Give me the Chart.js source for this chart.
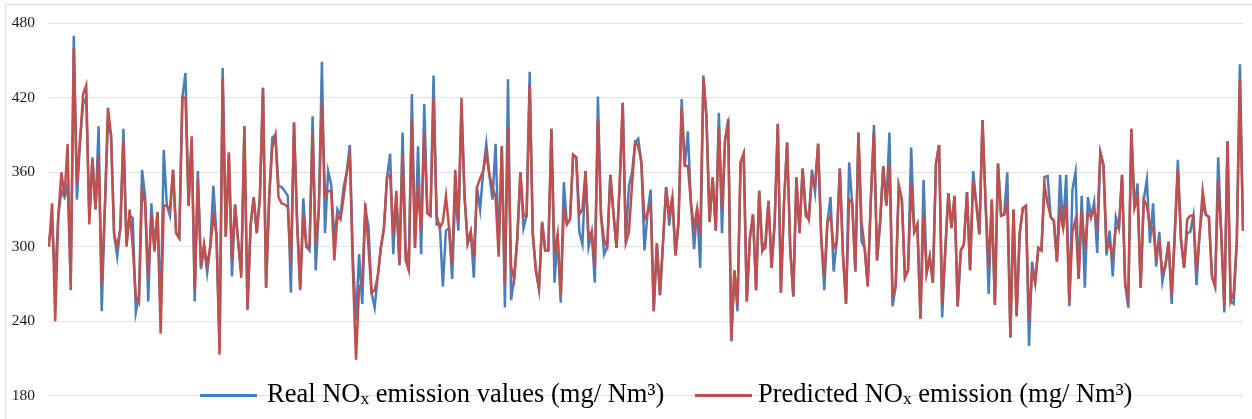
<!DOCTYPE html>
<html>
<head>
<meta charset="utf-8">
<script src="https://cdn.jsdelivr.net/npm/chart.js@4.4.1/dist/chart.umd.min.js"></script>
<style>
  html, body { margin: 0; padding: 0; background: #fff; }
  #wrap { position: relative; width: 1252px; height: 419px; overflow: hidden; }
  #frame { position: absolute; left: 5px; top: 4px; width: 1250px; height: 420px; border: 1px solid #dcdcdc; box-sizing: border-box; }
  #graph { position: absolute; left: 0; top: 0; }
  .swatch { position: absolute; width: 57px; height: 3px; }
  .label { position: absolute; font-family: "Liberation Serif", "Times New Roman", serif; font-size: 26.5px; line-height: 26px; color: #000; white-space: nowrap; }
  .label sub { font-size: 0.66em; vertical-align: -0.12em; line-height: 0; }
</style>
</head>
<body>
<div id="wrap">
  <div id="frame"></div>
  <canvas id="graph" width="1252" height="419"></canvas>
  <div class="swatch" style="left:200px; top:394px; background:#4a7ebb;"></div>
  <div class="label" style="left:267px; top:380px;">Real NO<sub>x</sub> emission values (mg/ Nm³)</div>
  <div class="swatch" style="left:695px; top:394px; background:#c0504d;"></div>
  <div class="label" style="left:758px; top:380px;">Predicted NO<sub>x</sub> emission (mg/ Nm³)</div>
</div>
<script>
  // values, left to right
  const realValues = [
    305,318,275,325,345,340,350,270,470,338,385,415,420,325,372,330,397,248,330,400,390,310,292,315,395,302,325,323,247,260,362,340,256,335,300,328,
    245,378,333,325,362,311,307,420,440,333,385,256,361,282,300,279,300,349,310,220,444,308,375,276,334,304,280,397,250,317,340,311,340,428,267,340,388,390,349,348,345,341,263,400,320,265,339,300,
    297,405,281,330,449,311,361,350,305,330,325,348,360,382,290,241,294,254,330,317,263,251,276,299,315,356,375,294,340,285,392,300,281,423,300,381,294,415,327,325,438,318,318,268,313,315,274,345,
    313,410,340,303,312,275,348,330,361,383,358,338,383,300,381,251,435,257,275,307,360,315,325,441,310,281,266,320,297,297,395,271,310,255,352,318,322,374,372,312,302,361,300,312,271,421,325,294,300,
    358,327,299,349,416,303,349,360,384,387,368,297,327,346,248,303,261,304,348,317,340,293,320,419,365,393,335,298,331,283,438,404,320,356,313,408,311,386,403,224,281,248,368,375,256,307,326,265,345,
    297,305,337,283,320,399,263,335,384,299,260,356,311,363,330,322,362,344,383,307,265,320,340,280,304,363,294,254,368,335,280,392,304,299,268,338,398,289,320,365,333,392,252,268,349,338,275,281,380,
    312,318,242,354,279,292,271,367,382,243,297,343,315,341,252,297,302,344,281,361,335,310,402,335,262,338,253,367,325,326,360,227,330,244,311,331,333,220,288,271,299,297,356,357,324,321,288,358,
    315,358,252,346,360,274,341,267,340,324,336,295,376,366,293,313,276,324,315,358,270,251,395,331,351,267,338,354,303,335,284,312,272,285,304,254,310,370,306,283,311,312,325,269,310,334,326,324,276,268,372,310,247,385,256,254,304,447,313
  ];

  const predictedValues = [
    300,335,240,325,360,340,383,265,460,350,385,423,430,318,370,330,375,270,330,412,390,310,300,315,385,300,330,300,260,255,345,335,275,325,296,328,
    230,333,333,330,362,311,307,420,420,333,389,266,355,284,302,285,300,325,310,213,436,308,376,290,334,304,275,397,249,317,340,311,340,428,267,340,380,390,340,335,334,332,286,400,320,266,325,300,
    300,392,302,330,416,341,345,345,289,325,322,340,360,373,280,209,268,270,335,300,263,265,276,299,315,356,358,310,345,286,375,289,281,402,299,350,312,392,327,325,420,325,315,320,341,315,286,362,
    320,420,340,303,312,292,348,355,361,375,358,348,340,292,381,270,397,284,274,307,360,325,325,430,310,281,266,320,297,297,395,294,310,260,330,318,322,374,372,326,330,361,307,312,284,402,325,305,300,
    358,327,299,349,416,303,312,350,384,381,368,322,327,334,248,303,261,304,348,325,340,293,320,412,365,365,335,315,331,310,436,404,320,356,313,397,330,386,398,224,281,253,368,375,256,307,326,265,345,
    297,299,337,283,320,399,263,335,384,299,260,356,311,363,325,322,356,350,383,307,275,320,325,299,304,363,294,254,338,335,280,392,320,299,268,338,392,289,320,365,333,366,261,268,349,338,275,281,350,
    312,318,242,325,279,292,271,367,382,254,297,343,315,341,252,297,302,344,281,353,335,310,402,335,283,338,253,367,325,326,335,227,330,244,311,331,333,240,281,271,299,297,349,335,324,321,288,330,
    315,335,255,312,322,274,330,298,327,324,330,317,376,366,299,302,293,315,315,358,270,258,395,331,340,267,338,333,317,315,292,304,279,285,304,262,310,362,306,283,322,325,325,279,310,345,326,324,276,268,354,310,252,385,256,263,304,435,313
  ];

  // sample numbers on the hidden x axis
  const samples = realValues.map((_, i) => i + 1);

  // y axis range and step
  const yMin = 180;
  const yMax = 480;
  const yStep = 60;

  const ctx = document.getElementById('graph').getContext('2d');
  new Chart(ctx, {
    type: 'line',
    data: {
      labels: samples,
      datasets: [
        {
          label: 'Real NOx emission values (mg/ Nm³)',
          data: realValues,
          borderColor: '#4a7ebb',
          borderWidth: 2.5,
          pointRadius: 0,
          tension: 0,
          order: 2
        },
        {
          label: 'Predicted NOx emission (mg/ Nm³)',
          data: predictedValues,
          borderColor: '#c0504d',
          borderWidth: 2.5,
          pointRadius: 0,
          tension: 0,
          order: 1
        }
      ]
    },
    options: {
      responsive: false,
      animation: false,
      devicePixelRatio: 1,
      layout: { padding: { top: 18, bottom: 11, left: 0, right: 9 } },
      plugins: {
        legend: { display: false },
        tooltip: { enabled: false }
      },
      scales: {
        x: { display: false },
        y: {
          min: yMin,
          max: yMax,
          ticks: {
            stepSize: yStep,
            padding: 14,
            color: '#1a1a1a',
            font: { family: '"Liberation Serif", "Times New Roman", serif', size: 15.5 }
          },
          grid: { color: '#e2e2e2', lineWidth: 1, drawTicks: false },
          border: { display: false },
          afterFit: function(scale) { scale.width = 49; }
        }
      }
    }
  });
</script>
</body>
</html>
